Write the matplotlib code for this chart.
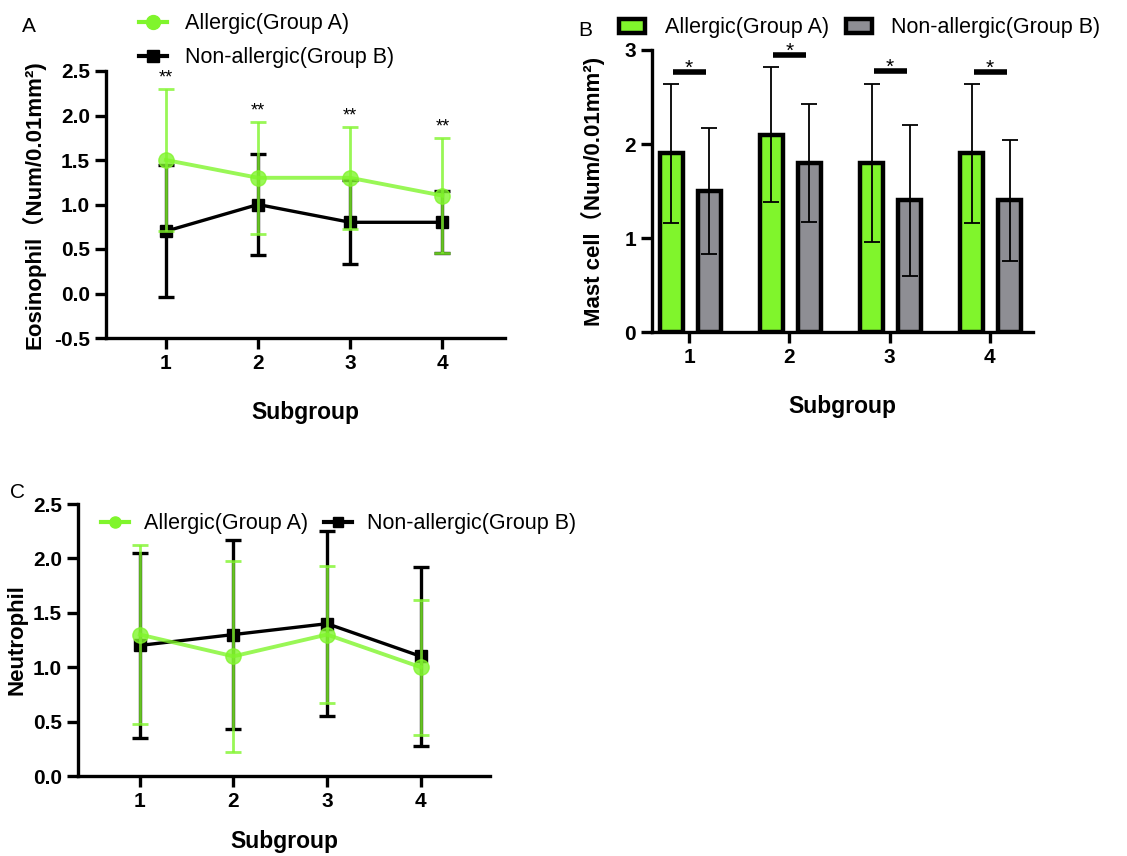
import matplotlib
matplotlib.use("Agg")
from matplotlib import pyplot as plt
from matplotlib.lines import Line2D
import numpy as np

plt.rcParams['font.family'] = ['Liberation Sans', 'Noto Sans CJK SC', 'DejaVu Sans']

subgroups = [1, 2, 3, 4]
green = '#80f52c'
gray = '#8e8e94'

# panel A - eosinophil
eos_a = [1.5, 1.3, 1.3, 1.1]
eos_a_err = [0.8, 0.63, 0.57, 0.65]
eos_b = [0.7, 1.0, 0.8, 0.8]
eos_b_err = [0.74, 0.57, 0.47, 0.35]
eos_stars = ['**', '**', '**', '**']

# panel B - mast cell
mast_a = [1.9, 2.1, 1.8, 1.9]
mast_a_err = [0.74, 0.72, 0.84, 0.74]
mast_b = [1.5, 1.8, 1.4, 1.4]
mast_b_err = [0.67, 0.63, 0.8, 0.64]
mast_sig_y = [2.77, 2.95, 2.78, 2.77]

# panel C - neutrophil
neu_a = [1.3, 1.1, 1.3, 1.0]
neu_a_err = [0.82, 0.88, 0.63, 0.62]
neu_b = [1.2, 1.3, 1.4, 1.1]
neu_b_err = [0.85, 0.87, 0.85, 0.82]

labels = ['Allergic(Group A)', 'Non-allergic(Group B)']

W, H = 1127, 856
fig = plt.figure(figsize=(W / 100, H / 100), dpi=100)


def make_axes(l, r, t, b):
    return fig.add_axes([l / W, 1 - b / H, (r - l) / W, (b - t) / H])


def style(ax):
    for s in ['top', 'right']:
        ax.spines[s].set_visible(False)
    for s in ['left', 'bottom']:
        ax.spines[s].set_linewidth(2.4)
    ax.tick_params(width=2.4, length=8, labelsize=15)
    for lab in ax.get_xticklabels() + ax.get_yticklabels():
        lab.set_fontweight('bold')


def line_panel(ax, a, a_err, b, b_err):
    ax.errorbar(subgroups, b, yerr=b_err, color='black', lw=2.4, marker='s', ms=9,
                capsize=6, capthick=2.4, elinewidth=2.4, zorder=2)
    ax.errorbar(subgroups, a, yerr=a_err, color=green, lw=2.8, marker='o', ms=11,
                capsize=6, capthick=2, elinewidth=2, alpha=0.8, zorder=3)


def line_handles(ms_o, ms_s):
    return [Line2D([], [], color=green, lw=3, marker='o', ms=ms_o),
            Line2D([], [], color='black', lw=3, marker='s', ms=ms_s)]


# ---- A
axA = make_axes(106, 505, 71, 338)
line_panel(axA, eos_a, eos_a_err, eos_b, eos_b_err)
axA.set_xlim(0.35, 4.68)
axA.set_ylim(-0.5, 2.5)
axA.set_xticks(subgroups)
axA.set_yticks(np.arange(-0.5, 2.51, 0.5))
axA.set_yticklabels(['%.1f' % v for v in np.arange(-0.5, 2.51, 0.5)])
for x, m, e, s in zip(subgroups, eos_a, eos_a_err, eos_stars):
    axA.text(x, m + e + 0.03, s, ha='center', va='bottom', fontsize=13)
axA.set_xlabel('Subgroup', fontsize=16.5, fontweight='bold', labelpad=20)
axA.set_ylabel('Eosinophil（Num/0.01mm²)', fontsize=16, fontweight='bold', labelpad=6)
style(axA)
axA.legend(line_handles(10, 9), labels, loc='upper left', bbox_to_anchor=(120 / W, 1 + 6 / H),
           bbox_transform=fig.transFigure, frameon=False, fontsize=15.5,
           handlelength=1.3, handletextpad=0.8, labelspacing=0.6)
fig.text(22 / W, 1 - 32 / H, 'A', fontsize=15)

# ---- B
axB = make_axes(652, 1033, 50, 332)
x = np.array(subgroups)
axB.bar(x - 0.18, mast_a, width=0.23, color=green, edgecolor='black', lw=3.2,
        yerr=mast_a_err, error_kw=dict(elinewidth=1.3, capsize=6, capthick=1.3),
        label=labels[0])
axB.bar(x + 0.2, mast_b, width=0.23, color=gray, edgecolor='black', lw=3.2,
        yerr=mast_b_err, error_kw=dict(elinewidth=1.3, capsize=6, capthick=1.3),
        label=labels[1])
for xi, y in zip(x, mast_sig_y):
    axB.plot([xi - 0.16, xi + 0.17], [y, y], color='black', lw=4, solid_capstyle='butt')
    axB.text(xi, y - 0.07, '*', ha='center', va='bottom', fontsize=15)
axB.set_xlim(0.63, 4.43)
axB.set_ylim(0, 3)
axB.set_xticks(subgroups)
axB.set_yticks([0, 1, 2, 3])
axB.set_xlabel('Subgroup', fontsize=16.5, fontweight='bold', labelpad=20)
axB.set_ylabel('Mast cell（Num/0.01mm²)', fontsize=16, fontweight='bold', labelpad=14)
style(axB)
axB.legend(loc='upper left', bbox_to_anchor=(600 / W, 1 + 2 / H),
           bbox_transform=fig.transFigure, frameon=False, fontsize=15.5, ncol=2,
           handlelength=1.2, handleheight=0.6, columnspacing=0.8, handletextpad=0.9)
fig.text(578 / W, 1 - 36 / H, 'B', fontsize=15)

# ---- C
axC = make_axes(78, 490, 504, 776)
line_panel(axC, neu_a, neu_a_err, neu_b, neu_b_err)
axC.set_xlim(0.34, 4.74)
axC.set_ylim(0, 2.5)
axC.set_xticks(subgroups)
axC.set_yticks(np.arange(0, 2.51, 0.5))
axC.set_yticklabels(['%.1f' % v for v in np.arange(0, 2.51, 0.5)])
axC.set_xlabel('Subgroup', fontsize=16.5, fontweight='bold', labelpad=14)
axC.set_ylabel('Neutrophil', fontsize=16, fontweight='bold', labelpad=4)
style(axC)
axC.legend(line_handles(8, 7), labels, loc='upper left', bbox_to_anchor=(82 / W, 1 - 494 / H),
           bbox_transform=fig.transFigure, frameon=False, fontsize=15.5, ncol=2,
           handlelength=1.3, handletextpad=0.7, columnspacing=0.7)
fig.text(10 / W, 1 - 498 / H, 'C', fontsize=15)

fig.savefig('out.png', dpi=100)
